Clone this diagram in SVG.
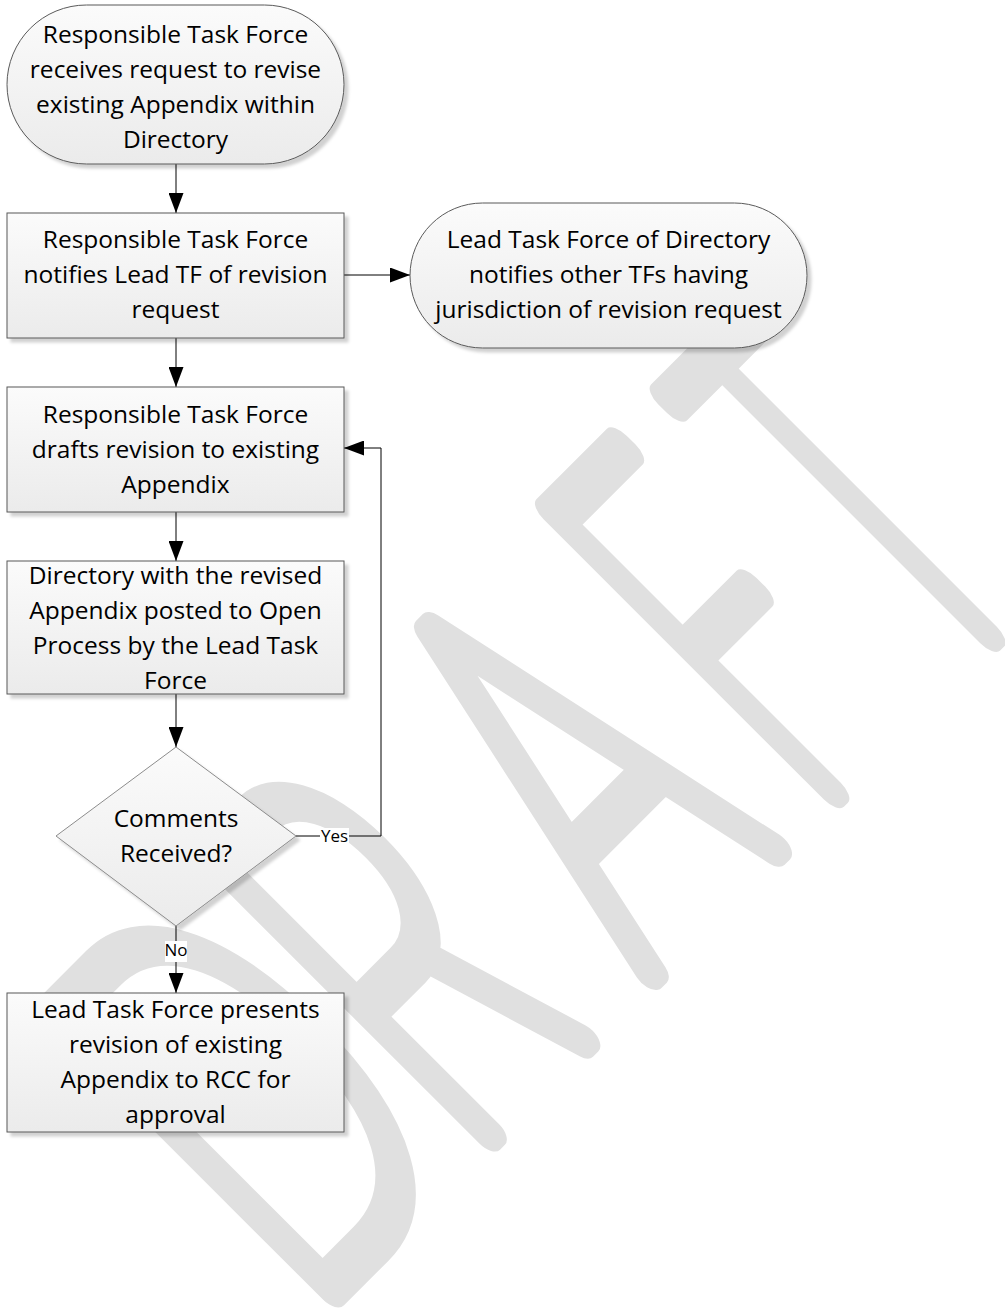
<svg xmlns="http://www.w3.org/2000/svg" width="1005" height="1310" viewBox="0 0 1005 1310">
<defs>
  <linearGradient id="gf" x1="0" y1="0" x2="0" y2="1">
    <stop offset="0" stop-color="#fbfbfb"/>
    <stop offset="1" stop-color="#ebebeb"/>
  </linearGradient>
  <filter id="sh" x="-10%" y="-10%" width="130%" height="130%">
    <feDropShadow dx="4" dy="4" stdDeviation="1.5" flood-color="#000" flood-opacity="0.18"/>
  </filter>
  <marker id="ah" markerWidth="20" markerHeight="15" refX="20" refY="7.5" orient="auto" markerUnits="userSpaceOnUse">
    <path d="M0,0 L20,7.5 L0,15 Z" fill="#000"/>
  </marker>
</defs>
<style>
  .node{fill:url(#gf);stroke:#595959;stroke-width:1;filter:url(#sh)}
  .dec{fill:url(#gf);stroke:#8c8c8c;stroke-width:1;filter:url(#sh)}
  .t{font-family:"Open Sans","Liberation Sans",sans-serif;font-size:24.5px;fill:#000;text-anchor:middle}
  .lbl{font-family:"Open Sans","Liberation Sans",sans-serif;font-size:17px;fill:#000;text-anchor:middle}
  .c{fill:none;stroke:#000;stroke-width:1}
  .wm text{font-family:Inter,Roboto,Lato,"DejaVu Sans",sans-serif;font-weight:100;font-size:545px;fill:#e0e0e0;stroke:#e0e0e0;stroke-width:30;stroke-linejoin:round;stroke-linecap:round;text-anchor:middle;vector-effect:non-scaling-stroke}
</style>
<rect width="1005" height="1310" fill="#fff"/>
<g class="wm" transform="rotate(-45)">
  <text transform="translate(-600,1148) scale(0.6,1)">D</text>
  <text transform="translate(-400,1148) scale(0.56,1)">R</text>
  <text transform="translate(-140,1148) scale(0.58,1)">A</text>
  <text transform="translate(72,1148) scale(0.47,1)">F</text>
  <text transform="translate(250,1148) scale(0.46,1)">T</text>
</g>
<g id="connectors">
  <line class="c" x1="176" y1="164" x2="176" y2="213" marker-end="url(#ah)"/>
  <line class="c" x1="176" y1="338" x2="176" y2="387" marker-end="url(#ah)"/>
  <line class="c" x1="176" y1="512" x2="176" y2="561" marker-end="url(#ah)"/>
  <line class="c" x1="176" y1="694" x2="176" y2="747" marker-end="url(#ah)"/>
  <line class="c" x1="344" y1="275" x2="410" y2="275" marker-end="url(#ah)"/>
  <path class="c" d="M296,836 H381 V448 H344" marker-end="url(#ah)"/>
  <line class="c" x1="176" y1="926" x2="176" y2="993" marker-end="url(#ah)"/>
  <rect x="320" y="828" width="29" height="17" fill="#fff"/>
  <text class="lbl" x="334.5" y="842">Yes</text>
  <rect x="165" y="941" width="22" height="21" fill="#fff"/>
  <text class="lbl" x="176" y="956">No</text>
</g>
<g id="n1">
  <rect class="node" x="7" y="5" width="337" height="159" rx="79.5"/>
  <text class="t" x="175.5" y="43">Responsible Task Force</text>
  <text class="t" x="175.5" y="78">receives request to revise</text>
  <text class="t" x="175.5" y="113">existing Appendix within</text>
  <text class="t" x="175.5" y="148">Directory</text>
</g>
<g id="n2">
  <rect class="node" x="7" y="213" width="337" height="125"/>
  <text class="t" x="175.5" y="248">Responsible Task Force</text>
  <text class="t" x="175.5" y="283">notifies Lead TF of revision</text>
  <text class="t" x="175.5" y="318">request</text>
</g>
<g id="n3">
  <rect class="node" x="410" y="203" width="397" height="145" rx="72.5"/>
  <text class="t" x="608.5" y="248">Lead Task Force of Directory</text>
  <text class="t" x="608.5" y="283">notifies other TFs having</text>
  <text class="t" x="608.5" y="318">jurisdiction of revision request</text>
</g>
<g id="n4">
  <rect class="node" x="7" y="387" width="337" height="125"/>
  <text class="t" x="175.5" y="423">Responsible Task Force</text>
  <text class="t" x="175.5" y="458">drafts revision to existing</text>
  <text class="t" x="175.5" y="493">Appendix</text>
</g>
<g id="n5">
  <rect class="node" x="7" y="561" width="337" height="133"/>
  <text class="t" x="175.5" y="584">Directory with the revised</text>
  <text class="t" x="175.5" y="619">Appendix posted to Open</text>
  <text class="t" x="175.5" y="654">Process by the Lead Task</text>
  <text class="t" x="175.5" y="689">Force</text>
</g>
<g id="n6">
  <polygon class="dec" points="176,747 296,836 176,926 56,836"/>
  <text class="t" x="176" y="827">Comments</text>
  <text class="t" x="176" y="862">Received?</text>
</g>
<g id="n7">
  <rect class="node" x="7" y="993" width="337" height="139"/>
  <text class="t" x="175.5" y="1018">Lead Task Force presents</text>
  <text class="t" x="175.5" y="1053">revision of existing</text>
  <text class="t" x="175.5" y="1088">Appendix to RCC for</text>
  <text class="t" x="175.5" y="1123">approval</text>
</g>
</svg>
